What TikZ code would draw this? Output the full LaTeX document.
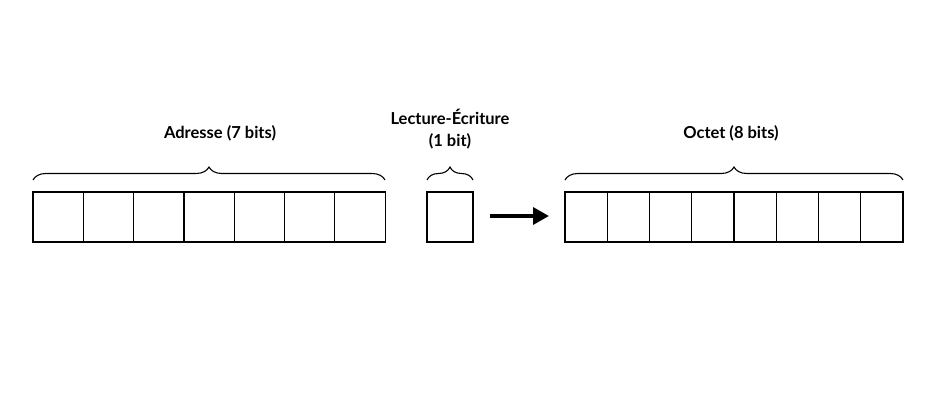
\documentclass[tikz,border=0pt]{standalone}
\usepackage{fontspec}
\setmainfont{Lato}
\usetikzlibrary{decorations.pathreplacing,arrows.meta}

\begin{document}
\begin{tikzpicture}[x=1pt, y=-1pt, every node/.style={font=\fontsize{16.5}{22}\selectfont\bfseries},
  bitbox/.style={draw=black, line width=1.2pt},
  accolade/.style={draw=black, line width=1.1pt, decorate, decoration={brace, amplitude=13pt}}]
  % cadre
  \useasboundingbox (0,0) rectangle (935,420);

  % adresse (7 bits)
  \foreach \i in {0,...,6} {
    \draw[bitbox] (33+\i*50.3,192) rectangle (33+\i*50.3+50.3,242);
  }
  \draw[accolade] (33,180) -- (385,180);
  \node (adresse) at (220,133) {Adresse (7 bits)};

  % lecture / écriture (1 bit)
  \draw[bitbox] (427,192) rectangle (473,242);
  \draw[accolade] (427,180) -- (473,180);
  \node[align=center] (rw) at (450,129) {Lecture-Écriture\\(1 bit)};

  % flèche
  \coordinate (depart) at (490,216);
  \coordinate (arrivee) at (549,216);
  \draw[-{Triangle[length=16pt,width=17pt]}, line width=3.5pt] (depart) -- (arrivee);

  % octet (8 bits)
  \foreach \i in {0,...,7} {
    \draw[bitbox] (565+\i*42.25,192) rectangle (565+\i*42.25+42.25,242);
  }
  \draw[accolade] (565,180) -- (903,180);
  \node (octet) at (731,133) {Octet (8 bits)};

\end{tikzpicture}
\end{document}
